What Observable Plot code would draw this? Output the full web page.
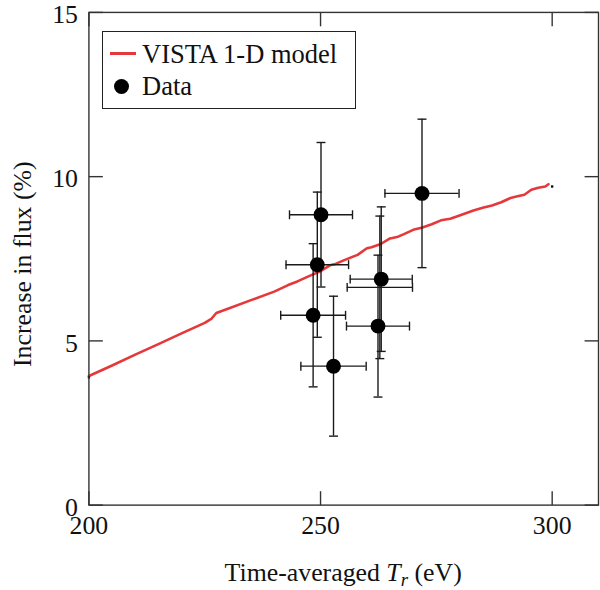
<!DOCTYPE html>
<html><head><meta charset="utf-8">
<script src="https://cdn.jsdelivr.net/npm/d3@7"></script>
<script src="https://cdn.jsdelivr.net/npm/@observablehq/plot@0.6"></script>
<style>
body{margin:0;background:#fff;}
#wrap{position:relative;width:600px;height:590px;overflow:hidden;font-family:"Liberation Serif","Times New Roman",serif;color:#111;}
#legend{position:absolute;left:102px;top:31px;width:254px;height:78px;border:1.4px solid #222;background:#fff;box-sizing:border-box;}
#legend .t{position:absolute;left:39px;font-size:26.5px;line-height:30px;white-space:nowrap;}
#legend .sw{position:absolute;left:7px;top:20px;width:26px;height:2.6px;background:#e5383b;}
#legend .dt{position:absolute;left:11px;top:47px;width:15px;height:15px;border-radius:50%;background:#000;}
</style></head><body><div id="wrap"></div>
<script>
// Model curve (VISTA 1-D model)
const modelTr   = [200, 205, 210, 215, 220, 225, 226.5, 227.5, 230, 235, 240, 243, 245, 248, 250, 252, 253, 255, 258, 260, 261, 263, 265, 266.5, 268, 270, 272, 274, 276, 278, 280, 283, 285, 287, 289, 291, 292.5, 294, 295.5, 297, 298.5, 299.2];
const modelFlux = [3.93, 4.25, 4.58, 4.90, 5.23, 5.55, 5.68, 5.85, 5.98, 6.24, 6.50, 6.70, 6.81, 7.00, 7.12, 7.30, 7.33, 7.45, 7.62, 7.82, 7.85, 7.95, 8.12, 8.16, 8.25, 8.38, 8.45, 8.55, 8.67, 8.72, 8.82, 8.97, 9.05, 9.12, 9.22, 9.35, 9.40, 9.45, 9.60, 9.66, 9.70, 9.77];
const modelEndTr   = [200, 300];
const modelEndFlux = [3.89, 9.70];
// Data points with error bars
const dataTr    = [250.1, 249.3, 248.4, 252.8, 263.1, 262.8, 262.4, 271.9];
const dataFlux  = [8.84, 7.32, 5.78, 4.23, 6.88, 6.63, 5.45, 9.49];
const trErr     = [6.8, 6.75, 7.0, 7.05, 6.7, 7.05, 6.8, 8.0];
const fluxErr   = [2.2, 2.21, 2.18, 2.13, 2.2, 2.17, 2.16, 2.26];
const hasMarker = [true, true, true, true, true, false, true, true];
// Axes
const xTicks = [200, 250, 300];
const yTicks = [0, 5, 10, 15];
const xDomain = [200, 310];
const yDomain = [0, 15];

const model = modelTr.map((x, i) => ({x, y: modelFlux[i]}));
const ends = modelEndTr.map((x, i) => ({x, y: modelEndFlux[i]}));
const pts = dataTr.map((x, i) => ({x, y: dataFlux[i], ex: trErr[i], ey: fluxErr[i], m: hasMarker[i]}));

const line = (dx, dy) => ({draw(ctx) { ctx.moveTo(0, 0); ctx.lineTo(dx, dy); }});
const cap = (hx, hy) => ({draw(ctx) { ctx.moveTo(-hx, -hy); ctx.lineTo(hx, hy); }});
const TL = 14;
const axisColor = "#333";
const ebColor = "#1a1a1a";
const FS = 26;

const chart = Plot.plot({
  width: 604, height: 590,
  marginLeft: 89, marginRight: 2, marginTop: 12, marginBottom: 82,
  x: {domain: xDomain, axis: null},
  y: {domain: yDomain, axis: null},
  style: {fontFamily: '"Liberation Serif","Times New Roman",serif', background: "white", overflow: "visible"},
  marks: [
    Plot.line(model, {x: "x", y: "y", stroke: "#e5383b", strokeWidth: 2.6}),
    Plot.dot(ends, {x: "x", y: "y", symbol: "square", r: 1.3, fill: "#000"}),
    // error bars
    Plot.ruleY(pts, {x1: d => d.x - d.ex, x2: d => d.x + d.ex, y: "y", stroke: ebColor, strokeWidth: 1.4}),
    Plot.ruleX(pts, {x: "x", y1: d => d.y - d.ey, y2: d => d.y + d.ey, stroke: ebColor, strokeWidth: 1.4}),
    Plot.dot(pts, {x: d => d.x - d.ex, y: "y", symbol: cap(0, 4.5), fill: "none", stroke: ebColor, strokeWidth: 1.4}),
    Plot.dot(pts, {x: d => d.x + d.ex, y: "y", symbol: cap(0, 4.5), fill: "none", stroke: ebColor, strokeWidth: 1.4}),
    Plot.dot(pts, {x: "x", y: d => d.y - d.ey, symbol: cap(4.5, 0), fill: "none", stroke: ebColor, strokeWidth: 1.4}),
    Plot.dot(pts, {x: "x", y: d => d.y + d.ey, symbol: cap(4.5, 0), fill: "none", stroke: ebColor, strokeWidth: 1.4}),
    Plot.dot(pts.filter(d => d.m), {x: "x", y: "y", r: 7.5, fill: "#000", stroke: "none"}),
    // frame and inward ticks
    Plot.frame({stroke: axisColor, strokeWidth: 1.4}),
    Plot.dot(xTicks, {x: d => d, frameAnchor: "bottom", symbol: line(0, -TL), fill: "none", stroke: axisColor, strokeWidth: 1.4}),
    Plot.dot(xTicks, {x: d => d, frameAnchor: "top", symbol: line(0, TL), fill: "none", stroke: axisColor, strokeWidth: 1.4}),
    Plot.dot(yTicks, {y: d => d, frameAnchor: "left", symbol: line(TL, 0), fill: "none", stroke: axisColor, strokeWidth: 1.4}),
    Plot.dot(yTicks, {y: d => d, frameAnchor: "right", symbol: line(-TL, 0), fill: "none", stroke: axisColor, strokeWidth: 1.4}),
    // tick labels
    Plot.text(xTicks, {x: d => d, frameAnchor: "bottom", dy: 21, text: d => String(d), fontSize: FS, fill: "#111", lineAnchor: "middle"}),
    Plot.text(yTicks, {y: d => d, frameAnchor: "left", dx: -11, dy: 2.5, text: d => String(d), fontSize: FS, fill: "#111", textAnchor: "end"})
  ]
});

const svg = d3.select(chart);
const xt = svg.append("text").attr("x", 345.5).attr("y", 585).attr("text-anchor", "middle")
  .attr("font-size", FS).attr("fill", "#111");
xt.append("tspan").text("Time-averaged ");
xt.append("tspan").attr("font-style", "italic").text("T");
xt.append("tspan").attr("font-style", "italic").attr("font-size", 19).attr("dy", 5).text("r");
xt.append("tspan").attr("dy", -5).text(" (eV)");
svg.append("text").attr("transform", "translate(31,266) rotate(-90)").attr("text-anchor", "middle")
  .attr("font-size", FS).attr("fill", "#111").text("Increase in flux (%)");

const wrap = document.getElementById("wrap");
wrap.appendChild(chart);
const legend = document.createElement("div");
legend.id = "legend";
legend.innerHTML = '<div class="sw"></div><div class="t" style="top:7px">VISTA 1-D model</div>' +
  '<div class="dt"></div><div class="t" style="top:39px">Data</div>';
wrap.appendChild(legend);
</script>
</body></html>
